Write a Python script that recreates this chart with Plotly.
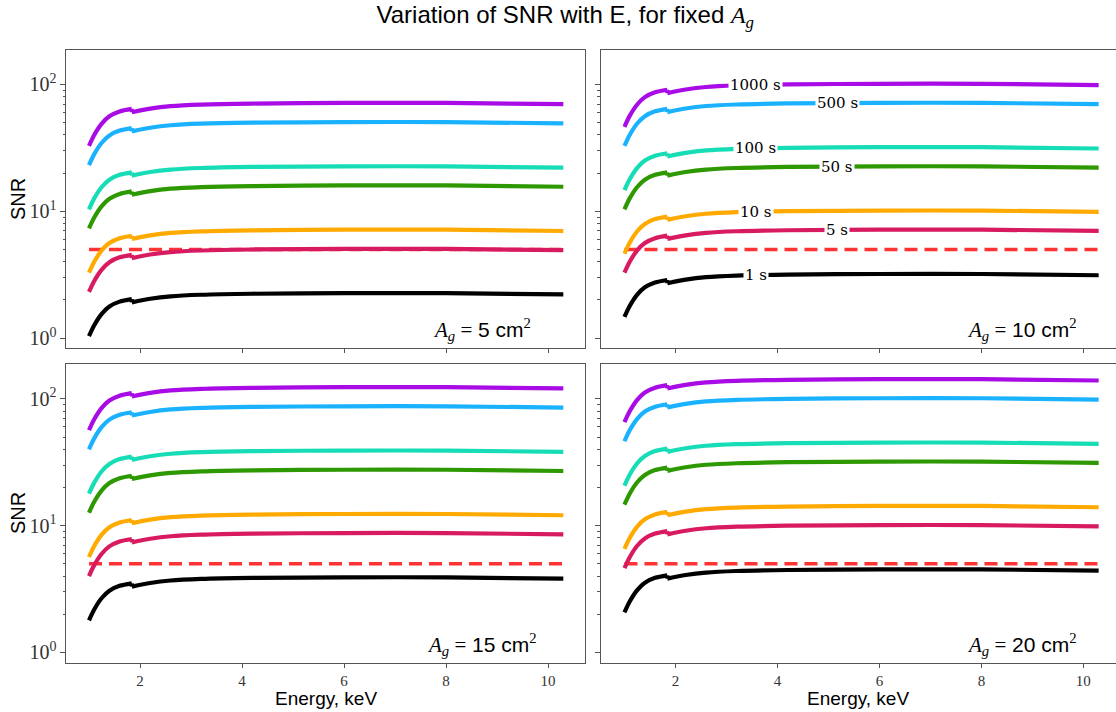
import numpy as np
import plotly.graph_objects as go
from plotly.subplots import make_subplots

# ---------------- data ----------------
energy_kev = [1.0, 1.1, 1.25, 1.4, 1.6, 1.839, 1.841, 2.2, 2.6, 3.2, 4.2, 6.0, 8.0, 10.3]
edge_index = 6  # Si K-edge: curves jump down between index 5 and 6

exposures = ["1 s", "5 s", "10 s", "50 s", "100 s", "500 s", "1000 s"]
line_colors = ["#000000", "#D81B60", "#FFAA00", "#2E9800", "#16DDB6", "#1AB2FF", "#A80BE6"]
areas = ["5", "10", "15", "20"]
snr_threshold = 5

snr_ag5 = [
    [1.035, 1.257, 1.553, 1.774, 1.937, 2.027, 1.910, 2.039, 2.133, 2.194, 2.235, 2.26, 2.26, 2.208],
    [2.313, 2.808, 3.469, 3.964, 4.328, 4.530, 4.267, 4.555, 4.767, 4.904, 4.994, 5.05, 5.05, 4.934],
    [3.275, 3.975, 4.912, 5.613, 6.128, 6.414, 6.042, 6.449, 6.750, 6.943, 7.071, 7.15, 7.15, 6.986],
    [7.319, 8.885, 10.98, 12.54, 13.70, 14.33, 13.50, 14.41, 15.09, 15.52, 15.80, 15.98, 15.98, 15.61],
    [10.35, 12.57, 15.53, 17.74, 19.37, 20.27, 19.10, 20.39, 21.33, 21.94, 22.35, 22.6, 22.6, 22.08],
    [23.13, 28.08, 34.69, 39.64, 43.28, 45.30, 42.67, 45.55, 47.67, 49.04, 49.94, 50.5, 50.5, 49.34],
    [32.75, 39.75, 49.12, 56.13, 61.28, 64.14, 60.42, 64.49, 67.50, 69.43, 70.71, 71.5, 71.5, 69.86],
]
snr_ag10 = [
    [1.466, 1.779, 2.198, 2.512, 2.742, 2.870, 2.704, 2.886, 3.021, 3.107, 3.165, 3.20, 3.20, 3.126],
    [3.279, 3.981, 4.919, 5.621, 6.136, 6.423, 6.050, 6.458, 6.759, 6.952, 7.081, 7.16, 7.16, 6.995],
    [4.635, 5.627, 6.952, 7.944, 8.673, 9.078, 8.551, 9.128, 9.553, 9.827, 10.01, 10.12, 10.12, 9.887],
    [10.35, 12.57, 15.53, 17.74, 19.37, 20.27, 19.10, 20.39, 21.33, 21.94, 22.35, 22.6, 22.6, 22.08],
    [14.66, 17.79, 21.98, 25.12, 27.42, 28.70, 27.04, 28.86, 30.21, 31.07, 31.65, 32.0, 32.0, 31.26],
    [32.79, 39.81, 49.19, 56.21, 61.36, 64.23, 60.50, 64.58, 67.59, 69.52, 70.81, 71.6, 71.6, 69.95],
    [46.35, 56.27, 69.52, 79.44, 86.73, 90.78, 85.51, 91.28, 95.53, 98.27, 100.1, 101.2, 101.2, 98.87],
]
snr_ag15 = [
    [1.791, 2.174, 2.686, 3.069, 3.351, 3.507, 3.304, 3.527, 3.691, 3.797, 3.867, 3.91, 3.91, 3.820],
    [4.003, 4.859, 6.004, 6.861, 7.490, 7.840, 7.385, 7.883, 8.251, 8.487, 8.644, 8.74, 8.74, 8.539],
    [5.661, 6.872, 8.491, 9.703, 10.59, 11.09, 10.44, 11.15, 11.67, 12.00, 12.22, 12.36, 12.36, 12.08],
    [12.64, 15.35, 18.96, 21.67, 23.65, 24.76, 23.32, 24.90, 26.05, 26.80, 27.30, 27.6, 27.6, 26.97],
    [17.91, 21.74, 26.86, 30.69, 33.51, 35.07, 33.04, 35.27, 36.91, 37.97, 38.67, 39.1, 39.1, 38.20],
    [40.03, 48.59, 60.04, 68.61, 74.90, 78.40, 73.85, 78.83, 82.51, 84.87, 86.44, 87.4, 87.4, 85.39],
    [56.61, 68.72, 84.91, 97.03, 105.9, 110.9, 104.4, 111.5, 116.7, 120.0, 122.2, 123.6, 123.6, 120.8],
]
snr_ag20 = [
    [2.070, 2.513, 3.105, 3.548, 3.874, 4.054, 3.819, 4.077, 4.267, 4.389, 4.470, 4.52, 4.52, 4.416],
    [4.626, 5.616, 6.939, 7.929, 8.656, 9.060, 8.535, 9.110, 9.534, 9.807, 9.989, 10.1, 10.1, 9.868],
    [6.549, 7.951, 9.824, 11.23, 12.26, 12.83, 12.08, 12.90, 13.50, 13.89, 14.14, 14.3, 14.3, 13.97],
    [14.66, 17.79, 21.98, 25.12, 27.42, 28.70, 27.04, 28.86, 30.21, 31.07, 31.65, 32.0, 32.0, 31.26],
    [20.70, 25.13, 31.05, 35.48, 38.74, 40.54, 38.19, 40.77, 42.67, 43.89, 44.70, 45.2, 45.2, 44.16],
    [46.30, 56.21, 69.46, 79.36, 86.64, 90.69, 85.43, 91.19, 95.44, 98.17, 99.99, 101.1, 101.1, 98.77],
    [65.45, 79.45, 98.17, 112.2, 122.5, 128.2, 120.8, 128.9, 134.9, 138.8, 141.3, 142.9, 142.9, 139.6],
]

# inline labels (only in the A_g = 10 panel): energy of each label
label_energy = [3.57, 5.17, 3.57, 5.17, 3.57, 5.17, 3.57]

x_ticks = [2, 4, 6, 8, 10]
y_ticks = [1, 10, 100]
y_ticktext = ["10<sup>0</sup>", "10<sup>1</sup>", "10<sup>2</sup>"]
y_minor = [2, 3, 4, 5, 6, 7, 8, 9, 20, 30, 40, 50, 60, 70, 80, 90, 200]

panels = [(1, 1, snr_ag5), (1, 2, snr_ag10), (2, 1, snr_ag15), (2, 2, snr_ag20)]

# ---------------- figure ----------------
W, H = 1116, 712
fig = make_subplots(rows=2, cols=2, shared_xaxes=True, shared_yaxes=True)

SERIF = "Liberation Serif"
SANS = "Liberation Sans"

for r, c, data in panels:
    # SNR = 5 threshold
    fig.add_trace(go.Scatter(x=[energy_kev[0], energy_kev[-1]], y=[snr_threshold, snr_threshold],
                             mode="lines", line=dict(color="#FF3333", width=3.5, dash="13px,7px"),
                             showlegend=False, hoverinfo="skip"), row=r, col=c)
    for k, series in enumerate(data):
        xs = energy_kev[:edge_index] + [None] + energy_kev[edge_index:]
        ys = series[:edge_index] + [None] + series[edge_index:]
        fig.add_trace(go.Scatter(x=xs, y=ys, mode="lines", connectgaps=False,
                                 line=dict(color=line_colors[k], width=4.2, shape="spline", smoothing=0.8),
                                 name=exposures[k], showlegend=False), row=r, col=c)
        # the small vertical drop at the absorption edge
        fig.add_trace(go.Scatter(x=energy_kev[edge_index - 1:edge_index + 1],
                                 y=series[edge_index - 1:edge_index + 1], mode="lines",
                                 line=dict(color=line_colors[k], width=4.2),
                                 showlegend=False, hoverinfo="skip"), row=r, col=c)

# domains (pixel-measured)
xdom = [[66.4 / W, 585.0 / W], [600.5 / W, 1.0]]
ydom = [[1 - 348.3 / H, 1 - 49.6 / H], [1 - 662.7 / H, 1 - 364.0 / H]]
xrng = [[0.557, 10.725], [0.53, 10.64]]

axis_common = dict(showline=True, mirror=True, linecolor="#555555", linewidth=1,
                   ticks="outside", tickcolor="#555555", showgrid=False, zeroline=False)

for idx, (r, c, _) in enumerate(panels):
    n = "" if idx == 0 else str(idx + 1)
    fig.layout["xaxis" + n].update(domain=xdom[c - 1], range=xrng[c - 1], tickvals=x_ticks,
                                   ticklen=4, showticklabels=(r == 2),
                                   tickfont=dict(family=SERIF, size=15, color="#333333"),
                                   **axis_common)
    fig.layout["yaxis" + n].update(domain=ydom[r - 1], type="log", range=[-0.081, 2.275],
                                   tickvals=y_ticks, ticktext=y_ticktext, ticklen=5,
                                   showticklabels=(c == 1),
                                   tickfont=dict(family=SERIF, size=20, color="#333333"),
                                   minor=dict(ticks="outside", ticklen=2.5, tickcolor="#555555",
                                              tickvals=y_minor, showgrid=False),
                                   **axis_common)

annotations = []
# panel area labels
ag_pos = {1: 0.801, 2: 0.817}
for idx, (r, c, _) in enumerate(panels):
    n = "" if idx == 0 else str(idx + 1)
    annotations.append(dict(
        xref=f"x{n} domain", yref=f"y{n} domain", x=ag_pos[c], y=0.062,
        xanchor="center", yanchor="middle", showarrow=False,
        text=(f"<span style='font-family:{SERIF}'><i>A</i><sub><i>g</i></sub> =</span> "
              f"{areas[idx]} cm<sup><span style='font-family:{SERIF}'>2</span></sup>"),
        font=dict(family=SANS, size=21, color="#000000")))

# inline exposure labels in the A_g = 10 panel
post_e = np.array(energy_kev[edge_index:])
for k, series in enumerate(snr_ag10):
    post_v = np.log10(np.array(series[edge_index:]))
    yv = 10 ** np.interp(label_energy[k], post_e, post_v)
    annotations.append(dict(
        xref="x2", yref="y2", x=label_energy[k], y=np.log10(yv),
        text=exposures[k], showarrow=False, xanchor="center", yanchor="middle",
        bgcolor="#FFFFFF", borderpad=1,
        font=dict(family="DejaVu Serif", size=15, color="#000000")))

# axis titles
for yy in (199, 513):
    annotations.append(dict(xref="paper", yref="paper", x=18 / W, y=1 - yy / H, text="SNR",
                            textangle=-90, showarrow=False, xanchor="center", yanchor="middle",
                            font=dict(family=SANS, size=20, color="#000000")))
for xx in (325.7, 858):
    annotations.append(dict(xref="paper", yref="paper", x=xx / W, y=1 - 698 / H, text="Energy, keV",
                            showarrow=False, xanchor="center", yanchor="middle",
                            font=dict(family=SANS, size=19, color="#000000")))

fig.update_layout(
    width=W, height=H,
    margin=dict(l=0, r=0, t=0, b=0),
    paper_bgcolor="#FFFFFF", plot_bgcolor="#FFFFFF",
    showlegend=False,
    title=dict(text=f"Variation of SNR with E, for fixed <span style='font-family:{SERIF}'><i>A</i><sub><i>g</i></sub></span>",
               x=0.5065, xanchor="center", y=1 - 15 / H, yanchor="middle",
               font=dict(family=SANS, size=24, color="#000000")),
    annotations=annotations,
)

fig.write_html("out.html", config={"displayModeBar": False},
               post_script="document.body.style.margin='0px';document.body.style.overflow='hidden';")
